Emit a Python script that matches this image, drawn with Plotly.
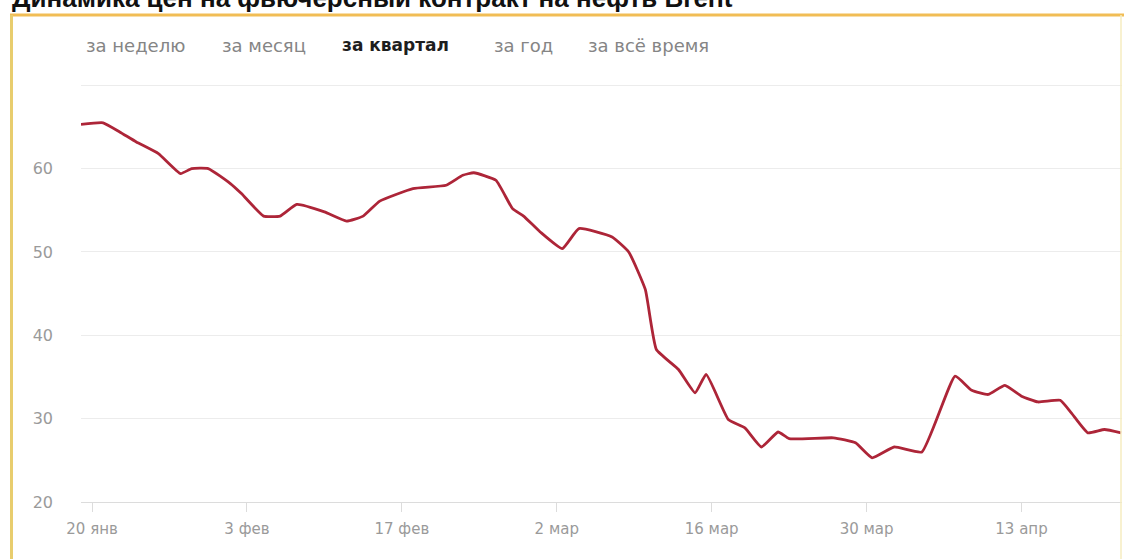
import plotly.graph_objects as go

# ---- data ----
dates = [
    "2020-01-19", "2020-01-21", "2020-01-22 12:00", "2020-01-24", "2020-01-26",
    "2020-01-28", "2020-01-29", "2020-01-30 12:00", "2020-02-01 12:00", "2020-02-02 12:00",
    "2020-02-04 12:00", "2020-02-06", "2020-02-07 12:00", "2020-02-10", "2020-02-12",
    "2020-02-13 12:00", "2020-02-15", "2020-02-18", "2020-02-21", "2020-02-22 12:00",
    "2020-02-23 12:00", "2020-02-25 12:00", "2020-02-27", "2020-02-28", "2020-02-29 12:00",
    "2020-03-02 12:00", "2020-03-04", "2020-03-07", "2020-03-08 12:00", "2020-03-10",
    "2020-03-11", "2020-03-13", "2020-03-14 12:00", "2020-03-15 12:00", "2020-03-17 12:00",
    "2020-03-19", "2020-03-20 12:00", "2020-03-22", "2020-03-23", "2020-03-27",
    "2020-03-29", "2020-03-30 12:00", "2020-04-01 12:00", "2020-04-04", "2020-04-07",
    "2020-04-08 12:00", "2020-04-10", "2020-04-11 12:00", "2020-04-13", "2020-04-14 12:00",
    "2020-04-16 12:00", "2020-04-17 12:00", "2020-04-19", "2020-04-20 12:00", "2020-04-22",
]
prices = [
    65.3, 65.5, 64.4, 63.2, 61.8,
    59.4, 60.0, 60.0, 58.2, 57.0,
    54.3, 54.3, 55.7, 54.8, 53.7,
    54.3, 56.1, 57.6, 58.0, 59.2,
    59.5, 58.6, 55.2, 54.3, 52.4,
    50.4, 52.8, 51.8, 50.0, 45.5,
    38.3, 35.9, 33.1, 35.3, 29.9,
    28.9, 26.6, 28.4, 27.6, 27.7,
    27.1, 25.3, 26.6, 26.0, 35.1,
    33.4, 32.9, 34.0, 32.7, 32.0,
    32.2, 30.7, 28.3, 28.7, 28.3,
]

tick_dates = ["2020-01-20", "2020-02-03", "2020-02-17", "2020-03-02",
              "2020-03-16", "2020-03-30", "2020-04-13"]
tick_labels = ["20 янв", "3 фев", "17 фев", "2 мар", "16 мар", "30 мар", "13 апр"]

y_ticks = [20, 30, 40, 50, 60, 70]
y_labels = ["20", "30", "40", "50", "60", ""]

periods = ["за неделю", "за месяц", "за квартал", "за год", "за всё время"]
active_period = "за квартал"

title_text = "Динамика цен на фьючерсный контракт на нефть Brent"

# ---- layout geometry (pixels) ----
W, H = 1124, 559
ML, MR, MT, MB = 81, 2, 84, 57
PW = W - ML - MR
PH = H - MT - MB


def px_x(p):
    return (p - ML) / PW


def px_y(p):
    return (H - MB - p) / PH


fig = go.Figure()
fig.add_trace(go.Scatter(
    x=dates, y=prices, mode="lines",
    line=dict(color="#ad2538", width=2.8, shape="spline", smoothing=0.4),
    hoverinfo="skip", showlegend=False,
))

sans = "DejaVu Sans, Verdana, sans-serif"
title_font = "Liberation Sans, Arial, sans-serif"

annotations = []
# title, partly clipped at the top edge (as in the reference)
annotations.append(dict(
    text="<b>" + title_text + "</b>", xref="paper", yref="paper",
    x=px_x(10), y=px_y(-2), xanchor="left", yanchor="middle",
    showarrow=False, font=dict(family=title_font, size=26, color="#111111"),
))
# period tabs
tab_x = [84, 220, 340, 492, 586]
for lbl, tx in zip(periods, tab_x):
    bold = lbl == active_period
    annotations.append(dict(
        text=("<b>" + lbl + "</b>") if bold else lbl,
        xref="paper", yref="paper", x=px_x(tx), y=px_y(45),
        xanchor="left", yanchor="middle", showarrow=False,
        font=dict(family=sans, size=18 if not bold else 17,
                  color="#1e1e1e" if bold else "#858585"),
    ))

shapes = [
    # top border of the frame
    dict(type="line", xref="paper", yref="paper",
         x0=px_x(10), x1=px_x(1124), y0=px_y(15), y1=px_y(15),
         line=dict(color="#f1bd55", width=3), layer="above"),
    # left border
    dict(type="line", xref="paper", yref="paper",
         x0=px_x(11.5), x1=px_x(11.5), y0=px_y(15), y1=px_y(570),
         line=dict(color="#e8cd6e", width=3), layer="above"),
    # faint right border
    dict(type="line", xref="paper", yref="paper",
         x0=px_x(1121), x1=px_x(1121), y0=px_y(15), y1=px_y(570),
         line=dict(color="#f6ecc0", width=1.5), layer="above"),
]

fig.update_layout(
    width=W, height=H,
    margin=dict(l=ML, r=MR, t=MT, b=MB, pad=0),
    paper_bgcolor="#ffffff", plot_bgcolor="#ffffff",
    font=dict(family=sans, size=14, color="#999999"),
    annotations=annotations, shapes=shapes,
    showlegend=False,
)
fig.update_xaxes(
    type="date", range=["2020-01-19", "2020-04-22 02:00"],
    tickmode="array", tickvals=tick_dates, ticktext=tick_labels,
    ticks="outside", ticklen=9, tickcolor="#dcdcdc", tickwidth=1,
    showgrid=False, showline=True, linecolor="#dcdcdc", linewidth=1,
    zeroline=False, tickfont=dict(family=sans, size=15, color="#9a9a9a"),
    ticklabelstandoff=4,
)
fig.update_yaxes(
    range=[20, 70.15], tickmode="array", tickvals=y_ticks, ticktext=y_labels,
    showgrid=True, gridcolor="#ececec", gridwidth=1,
    zeroline=False, showline=False, ticks="",
    tickfont=dict(family=sans, size=16, color="#9a9a9a"),
    ticklabelstandoff=27,
)

fig.write_html("out.html")
